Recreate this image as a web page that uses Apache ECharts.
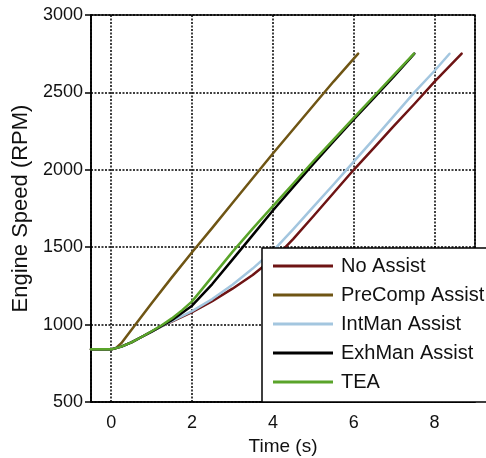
<!DOCTYPE html>
<html>
<head>
<meta charset="utf-8">
<script src="https://cdn.jsdelivr.net/npm/echarts@6/dist/echarts.min.js"></script>
<style>
html,body{margin:0;padding:0;background:#fff;}
#chart{width:486px;height:458px;}
</style>
</head>
<body>
<div id="chart"></div>
<script>
var seriesNames = ['No Assist', 'PreComp Assist', 'IntMan Assist', 'ExhMan Assist', 'TEA'];
var seriesColors = ['#6e1414', '#6f5514', '#a3c6df', '#000000', '#5aa42a'];

var noAssist = [[-0.5,840],[0,840],[0.25,858],[0.5,885],[0.75,920],[1.0,955],[1.25,990],[1.5,1020],[2.0,1080],[2.5,1152],[3.0,1232],[3.5,1320],[4.0,1425],[4.31,1500],[4.5,1552],[5.0,1700],[5.5,1850],[6.0,2000],[6.5,2142],[7.0,2285],[7.5,2425],[8.0,2570],[8.67,2750]];
var preComp = [[-0.5,840],[0,840],[0.1,845],[0.25,880],[0.6,1000],[1.0,1138],[1.5,1305],[2.0,1467],[2.5,1625],[3.0,1785],[3.5,1945],[4.0,2105],[4.5,2260],[5.0,2415],[5.5,2570],[6.11,2750]];
var intMan = [[-0.5,840],[0,840],[0.25,858],[0.5,885],[0.75,920],[1.0,955],[1.25,990],[1.5,1022],[2.0,1087],[2.5,1165],[3.0,1258],[3.5,1362],[4.09,1500],[4.5,1615],[5.0,1760],[5.5,1905],[5.82,2000],[6.5,2200],[7.0,2350],[7.5,2500],[8.0,2640],[8.37,2750]];
var exhMan = [[-0.5,840],[0,840],[0.25,858],[0.5,885],[0.75,920],[1.0,955],[1.25,992],[1.5,1028],[2.0,1122],[2.5,1262],[3.0,1420],[3.5,1578],[4.0,1737],[4.5,1888],[5.0,2038],[5.5,2184],[6.0,2325],[6.5,2465],[7.0,2605],[7.5,2750]];
var tea = [[-0.5,840],[0,840],[0.25,858],[0.5,885],[0.75,920],[1.0,957],[1.25,996],[1.5,1040],[1.75,1092],[2.0,1150],[2.5,1310],[3.0,1470],[3.5,1620],[4.0,1765],[4.5,1910],[5.0,2055],[5.5,2195],[6.0,2335],[6.5,2475],[7.0,2615],[7.49,2750]];
var allData = [noAssist, preComp, intMan, exhMan, tea];

var xAxisName = 'Time (s)';
var yAxisName = 'Engine Speed (RPM)';
var xMin = -0.5, xMax = 9;
var yMin = 500, yMax = 3000, yStep = 500;

var FONT = 'Liberation Sans, Arial, Helvetica, sans-serif';
var chart = echarts.init(document.getElementById('chart'), null, {renderer: 'canvas'});

var zOrder = [3, 3, 3, 4, 5];
var series = seriesNames.map(function (n, i) {
  return {
    name: n, type: 'line', data: allData[i], showSymbol: false, symbol: 'none',
    smooth: false, z: zOrder[i],
    lineStyle: {color: seriesColors[i], width: 2.5, join: 'round', cap: 'round'},
    itemStyle: {color: seriesColors[i]}
  };
});

chart.setOption({
  animation: false,
  backgroundColor: '#fff',
  grid: {left: 91, right: 11, top: 15, bottom: 56, containLabel: false, outerBoundsMode: 'none',
    show: true, borderColor: '#000', borderWidth: 1.5, backgroundColor: 'transparent'},
  xAxis: {
    type: 'value', min: xMin, max: xMax, splitNumber: 5,
    name: xAxisName, nameLocation: 'middle', nameGap: 35,
    nameTextStyle: {fontFamily: FONT, fontSize: 19, color: '#111'},
    axisLine: {show: true, onZero: false, lineStyle: {color: '#000', width: 1.5}},
    axisTick: {show: false},
    axisLabel: {fontFamily: FONT, fontSize: 18, color: '#111', margin: 12,
      formatter: function (v) { return (v % 2 === 0) ? String(v) : ''; }},
    splitLine: {show: true, lineStyle: {color: '#000', width: 1.5, type: [2, 1.5]}}
  },
  yAxis: {
    type: 'value', min: yMin, max: yMax, interval: yStep,
    name: yAxisName, nameLocation: 'middle', nameGap: 52,
    nameTextStyle: {fontFamily: FONT, fontSize: 22, color: '#111'},
    axisLine: {show: true, onZero: false, lineStyle: {color: '#000', width: 1.5}},
    axisTick: {show: true, length: 6, inside: false, lineStyle: {color: '#000', width: 1.5}},
    axisLabel: {fontFamily: FONT, fontSize: 18, color: '#111', margin: 8,
      formatter: function (v) { return String(v); }},
    splitLine: {show: true, lineStyle: {color: '#000', width: 1.5, type: [2, 1.5]}}
  },
  legend: {
    orient: 'vertical', left: 262, top: 248,
    padding: [8, 6, 10, 11],
    itemGap: 9, itemWidth: 60, itemHeight: 14,
    backgroundColor: '#fff', borderColor: '#000', borderWidth: 1.5, borderRadius: 0,
    textStyle: {fontFamily: FONT, fontSize: 20, color: '#111', padding: [0, 0, 0, 3]},
    data: seriesNames.map(function (n, i) {
      return {name: n, icon: 'path://M0,0 L60,0 L60,3 L0,3 Z', itemStyle: {color: seriesColors[i]}};
    }),
    selectedMode: false
  },
  series: series
});
</script>
</body>
</html>
